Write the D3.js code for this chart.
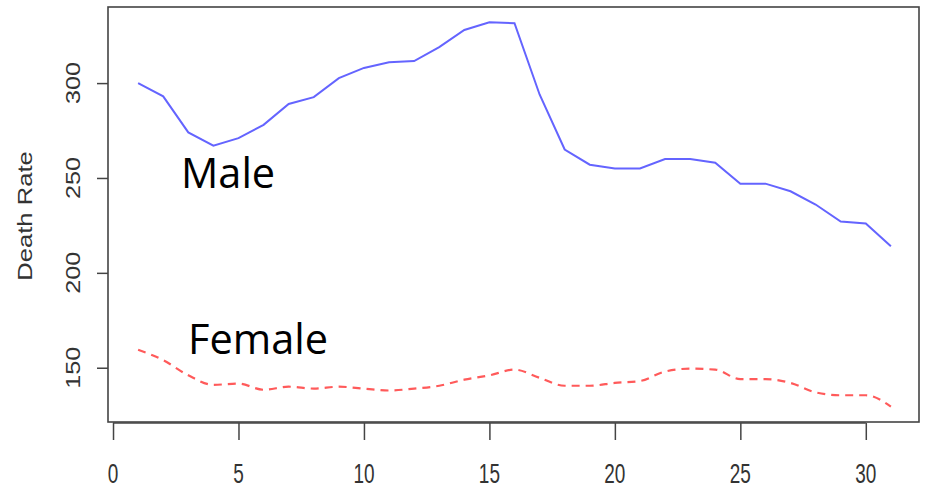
<!DOCTYPE html>
<html lang="en">
<head>
    <meta charset="UTF-8">
    <title>Death Rate</title>
    <script src="https://d3js.org/d3.v7.min.js"></script>
    <style>
        body { margin: 0; background: #fff; }
        .tick-label { font-family: "Liberation Sans", Arial, sans-serif; fill: #333; }
        .series-label { font-family: "Open Sans", sans-serif; font-size: 41.5px; fill: #000; }
    </style>
</head>
<body>
<svg width="926" height="489"></svg>

<script type="application/javascript">

    // datos
    const dias = d3.range(1, 32)
    const male = [300, 293, 274, 267, 271, 278, 289, 292.6, 302.6, 308, 311, 311.6, 319, 328, 332, 331.6,
        294, 265, 257, 255, 255, 260, 260, 258, 247, 247, 243, 236, 227, 226, 214]
    const female = [159.5, 154, 146, 141, 141.6, 138.4, 140, 139, 140, 139, 138, 139, 140.5, 143.7, 146, 149,
        144.7, 140.5, 140.5, 142, 143, 148, 149.5, 149, 144, 144, 142, 137, 135.5, 135.5, 129.5]
    const xTicks = [0, 5, 10, 15, 20, 25, 30]
    const yTicks = [150, 200, 250, 300]
    const seriesNames = ["Male", "Female"]

    const svg = d3.select("svg")

    const x = d3.scaleLinear().domain([-0.2, 32.2]).range([108, 921])
    const y = d3.scaleLinear().domain([121.4, 340.1]).range([422, 7])

    // caja
    svg.append("rect")
        .attr("x", x(-0.2))
        .attr("y", y(340.1))
        .attr("width", x(32.2) - x(-0.2) - 2)
        .attr("height", y(121.4) - y(340.1))
        .attr("fill", "none")
        .attr("stroke", "#444")
        .attr("stroke-width", 1.6)

    // eje x
    const gx = svg.append("g")
        .attr("transform", "translate(0," + (y(121.4) + 1) + ")")
        .call(d3.axisBottom(x).tickValues(xTicks).tickSize(17).tickFormat(""))
    gx.select(".domain").remove()
    gx.selectAll(".tick line").attr("stroke", "#444").attr("stroke-width", 1.5)
    gx.append("line")
        .attr("x1", x(0)).attr("x2", x(30))
        .attr("stroke", "#444").attr("stroke-width", 1.5)

    svg.selectAll(".xlab")
        .data(xTicks)
        .enter()
        .append("text")
        .attr("class", "tick-label")
        .attr("text-anchor", "middle")
        .attr("font-size", 19)
        .attr("transform", d => "translate(" + x(d) + ",483) scale(1,1.45)")
        .text(d => d)

    // eje y
    const gy = svg.append("g")
        .attr("transform", "translate(" + x(-0.2) + ",0)")
        .call(d3.axisLeft(y).tickValues(yTicks).tickSize(11).tickFormat(""))
    gy.select(".domain").remove()
    gy.selectAll(".tick line").attr("stroke", "#444").attr("stroke-width", 1.5)

    svg.selectAll(".ylab")
        .data(yTicks)
        .enter()
        .append("text")
        .attr("class", "tick-label")
        .attr("text-anchor", "middle")
        .attr("font-size", 21)
        .attr("transform", d => "translate(80," + y(d) + ") rotate(-90) scale(1.2,1)")
        .text(d => d)

    svg.append("text")
        .attr("class", "tick-label")
        .attr("text-anchor", "middle")
        .attr("font-size", 21)
        .attr("transform", "translate(32,216) rotate(-90) scale(1.22,1)")
        .text("Death Rate")

    // lineas
    const lineaMale = d3.line()
        .x((d, i) => x(dias[i]))
        .y(d => y(d))

    const lineaFemale = d3.line()
        .curve(d3.curveMonotoneX)
        .x((d, i) => x(dias[i]))
        .y(d => y(d))

    svg.append("path")
        .attr("d", lineaMale(male))
        .attr("fill", "none")
        .attr("stroke", "#6464ff")
        .attr("stroke-width", 2)

    svg.append("path")
        .attr("d", lineaFemale(female))
        .attr("fill", "none")
        .attr("stroke", "#ff5a5a")
        .attr("stroke-width", 2.2)
        .attr("stroke-dasharray", "8,6")

    // etiquetas
    svg.append("text")
        .attr("class", "series-label")
        .attr("x", 181)
        .attr("y", 188)
        .text(seriesNames[0])

    svg.append("text")
        .attr("class", "series-label")
        .attr("x", 188)
        .attr("y", 354)
        .text(seriesNames[1])

</script>
</body>
</html>
